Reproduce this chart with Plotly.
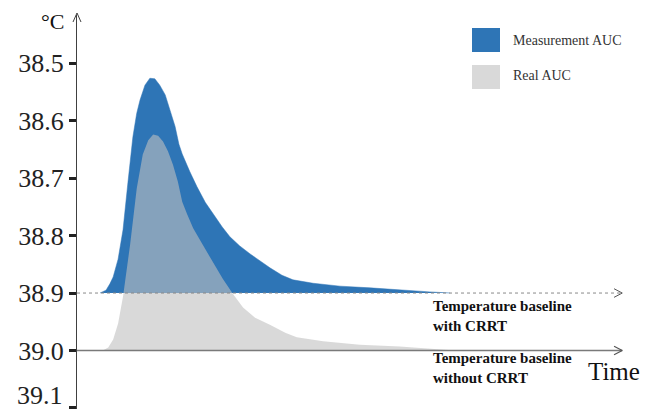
import plotly.graph_objects as go

# ---------------- data ----------------
y_ticks = [38.5, 38.6, 38.7, 38.8, 38.9, 39.0, 39.1]
baseline_with_crrt = 38.9
baseline_without_crrt = 39.0

meas_time = [4.2, 5.3, 6.0, 6.6, 7.5, 8.4, 9.3, 10.2, 10.9, 11.5, 12.4, 13.3, 14.2,
             15.1, 16.1, 17.0, 17.9, 18.6, 19.2, 20.6, 21.9, 23.4, 24.8, 26.5, 27.9,
             29.7, 31.6, 33.4, 35.2, 37.4, 39.4, 43.1, 48.0, 53.5, 58.9, 64.4, 68.1]
meas_temp = [38.900, 38.895, 38.884, 38.872, 38.841, 38.790, 38.707, 38.628, 38.587,
             38.564, 38.538, 38.526, 38.527, 38.538, 38.555, 38.581, 38.610, 38.641,
             38.658, 38.689, 38.715, 38.742, 38.762, 38.785, 38.802, 38.818, 38.832,
             38.844, 38.856, 38.869, 38.877, 38.883, 38.888, 38.891, 38.895, 38.898,
             38.900]

real_time = [4.7, 5.7, 6.6, 7.5, 8.4, 9.7, 10.9, 12.0, 13.0, 13.9, 14.8, 15.7, 16.6,
             17.5, 18.4, 19.2, 20.1, 21.2, 23.0, 24.8, 26.6, 28.5, 30.3, 32.5, 35.2,
             38.0, 40.1, 44.9, 51.6, 58.9, 66.2, 69.0]
real_temp = [39.000, 38.995, 38.981, 38.953, 38.906, 38.815, 38.718, 38.659, 38.634,
             38.624, 38.626, 38.636, 38.653, 38.676, 38.706, 38.741, 38.763, 38.787,
             38.817, 38.845, 38.875, 38.902, 38.925, 38.943, 38.955, 38.969, 38.977,
             38.984, 38.990, 38.993, 38.998, 39.000]

series_names = ["Measurement AUC", "Real AUC"]
baseline_labels = ["Temperature baseline<br>with CRRT",
                   "Temperature baseline<br>without CRRT"]

BLUE = "#2E75B6"
GRAY_FILL = "rgba(192,192,192,0.6)"
SERIF = "Liberation Serif, Times New Roman, Times, serif"

X_MAX = 100
Y_RANGE = [39.1019, 38.4159]
# the page has an 8px body margin, so the figure is 8px smaller than the window
OFF = 8
W, H = 656 - OFF, 409 - OFF
L, R, T, B = 77 - OFF, 31, 15 - OFF, 0
PW, PH = W - L - R, H - T - B


def px(xp):
    return (xp - OFF - L) / PW


def py(yp):
    return (H - B - (yp - OFF)) / PH


fig = go.Figure()

fig.add_trace(go.Scatter(x=meas_time, y=meas_temp, fill="toself", mode="lines",
                         fillcolor=BLUE, line=dict(color=BLUE, width=0.5),
                         name=series_names[0], showlegend=False, hoverinfo="skip"))
fig.add_trace(go.Scatter(x=real_time, y=real_temp, fill="toself", mode="lines",
                         fillcolor=GRAY_FILL, line=dict(width=0),
                         name=series_names[1], showlegend=False, hoverinfo="skip"))

x_end = 99.5
fig.add_trace(go.Scatter(x=[0, x_end], y=[baseline_with_crrt] * 2, mode="lines",
                         line=dict(color="#8a8a8a", width=1, dash="dot"),
                         showlegend=False, hoverinfo="skip"))
fig.add_trace(go.Scatter(x=[0, x_end], y=[baseline_without_crrt] * 2, mode="lines",
                         line=dict(color="#7a7a7a", width=1.5),
                         showlegend=False, hoverinfo="skip"))
for b, w in [(baseline_with_crrt, 1), (baseline_without_crrt, 1.2)]:
    fig.add_trace(go.Scatter(x=[x_end - 1.5, x_end, x_end - 1.5],
                             y=[b - 0.0075, b, b + 0.0075], mode="lines",
                             line=dict(color="#555555", width=w),
                             showlegend=False, hoverinfo="skip"))

shapes = [
    # y-axis arrow head
    dict(type="path", xref="paper", yref="paper",
         path=f"M {px(73)},{py(22)} L {px(77)},{py(13)} L {px(81)},{py(22)}",
         line=dict(color="#404040", width=1)),
    # legend boxes
    dict(type="rect", xref="paper", yref="paper", x0=px(472), x1=px(500),
         y0=py(52), y1=py(28), fillcolor=BLUE, line=dict(width=0)),
    dict(type="rect", xref="paper", yref="paper", x0=px(472), x1=px(500),
         y0=py(89), y1=py(65), fillcolor="#D9D9D9", line=dict(width=0)),
]

# tick labels: the bottom one is nudged up (as in the reference) so it is not cut
tick_text = [f"{v:.1f}" for v in y_ticks[:-1]] + [""]

annotations = [
    dict(text=f"{y_ticks[-1]:.1f}", xref="paper", yref="paper", x=px(65), y=py(395),
         xanchor="right", yanchor="middle", showarrow=False,
         font=dict(family=SERIF, size=26, color="#222222")),
    dict(text=series_names[0], xref="paper", yref="paper", x=px(511), y=py(40),
         xanchor="left", yanchor="middle", showarrow=False,
         font=dict(family=SERIF, size=14, color="#333333")),
    dict(text=series_names[1], xref="paper", yref="paper", x=px(511), y=py(76),
         xanchor="left", yanchor="middle", showarrow=False,
         font=dict(family=SERIF, size=14, color="#333333")),
    dict(text="<b>" + baseline_labels[0].replace("<br>", "</b><br><b>") + "</b>",
         xref="paper", yref="paper", x=px(431), y=py(316), xanchor="left",
         yanchor="middle", align="left", showarrow=False,
         font=dict(family=SERIF, size=15, color="#111111")),
    dict(text="<b>" + baseline_labels[1].replace("<br>", "</b><br><b>") + "</b>",
         xref="paper", yref="paper", x=px(431), y=py(368), xanchor="left",
         yanchor="middle", align="left", showarrow=False,
         font=dict(family=SERIF, size=15, color="#111111")),
    dict(text="Time", xref="paper", yref="paper", x=px(614), y=py(371),
         xanchor="center", yanchor="middle", showarrow=False,
         font=dict(family=SERIF, size=25, color="#111111")),
    dict(text="°C", xref="paper", yref="paper", x=px(52), y=py(21),
         xanchor="center", yanchor="middle", showarrow=False,
         font=dict(family=SERIF, size=22, color="#111111")),
]

fig.update_layout(
    width=W, height=H,
    margin=dict(l=L, r=R, t=T, b=B, autoexpand=False),
    paper_bgcolor="white", plot_bgcolor="white",
    xaxis=dict(visible=False, range=[0, X_MAX], automargin=False),
    yaxis=dict(range=Y_RANGE, tickvals=y_ticks, automargin=False,
               ticktext=tick_text,
               ticks="outside", ticklen=7, tickwidth=2.5, tickcolor="#222222",
               showline=True, linecolor="#404040", linewidth=1,
               showgrid=False, zeroline=False, ticklabeloverflow="allow",
               tickfont=dict(family=SERIF, size=26, color="#222222")),
    shapes=shapes, annotations=annotations, showlegend=False,
)

fig.write_html("out.html")
